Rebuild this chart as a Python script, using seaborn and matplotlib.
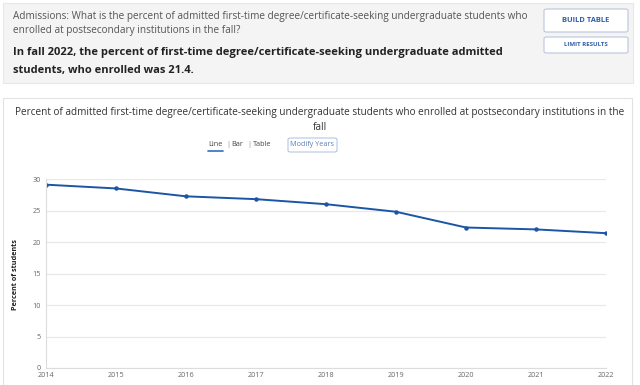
import pandas as pd
import seaborn as sns
import matplotlib.pyplot as plt
from matplotlib.patches import FancyBboxPatch, Rectangle

# data
years = [2014, 2015, 2016, 2017, 2018, 2019, 2020, 2021, 2022]
percent = [29.1, 28.5, 27.25, 26.8, 26.0, 24.8, 22.3, 22.0, 21.4]
y_ticks = [0, 5, 10, 15, 20, 25, 30]

df = pd.DataFrame({"year": years, "percent": percent})

sns.set_theme(style="white")
plt.rcParams["font.family"] = ["Open Sans", "DejaVu Sans"]

W, H = 640, 385
fig = plt.figure(figsize=(6.4, 3.85), dpi=100)
fig.patch.set_facecolor("white")


def px(x, y):
    # pixel coords (top-left origin) -> figure fraction
    return x / W, 1 - y / H


# header panel
fig.patches.append(Rectangle(px(3, 83), 630 / W, 80 / H, transform=fig.transFigure,
                             facecolor="#f4f4f4", edgecolor="#e8e8e8", lw=0.8, zorder=-2))
fig.text(*px(13, 16), "Admissions: What is the percent of admitted first-time degree/certificate-seeking undergraduate students who",
         fontsize=7.2, color="#555555", va="center")
fig.text(*px(13, 31), "enrolled at postsecondary institutions in the fall?",
         fontsize=7.2, color="#555555", va="center")
fig.text(*px(13, 53), "In fall 2022, the percent of first-time degree/certificate-seeking undergraduate admitted",
         fontsize=8.0, color="#222222", weight="bold", va="center")
fig.text(*px(13, 70), "students, who enrolled was 21.4.",
         fontsize=8.0, color="#222222", weight="bold", va="center")

# buttons
for (y0, y1, label, fs) in [(9, 32, "BUILD TABLE", 5.4), (37, 53, "LIMIT RESULTS", 4.4)]:
    fig.patches.append(FancyBboxPatch(px(544, y1), 84 / W, (y1 - y0) / H,
                                      boxstyle="round,pad=0,rounding_size=0.004",
                                      transform=fig.transFigure, facecolor="white",
                                      edgecolor="#b9c7dc", lw=0.8, zorder=1))
    fig.text(*px(586, (y0 + y1) / 2), label, fontsize=fs, color="#2f5fa7",
             weight="bold", ha="center", va="center")

# chart card
fig.patches.append(Rectangle(px(3, 386), 629 / W, 288 / H, transform=fig.transFigure,
                             facecolor="white", edgecolor="#e2e2e2", lw=0.8, zorder=-2))
fig.text(*px(320, 113), "Percent of admitted first-time degree/certificate-seeking undergraduate students who enrolled at postsecondary institutions in the",
         fontsize=7.2, color="#333333", ha="center", va="center")
fig.text(*px(320, 127), "fall", fontsize=7.2, color="#333333", ha="center", va="center")

fig.text(*px(215.5, 144), "Line", fontsize=5.2, color="#444444", ha="center", va="center")
fig.lines.append(plt.Line2D([208 / W, 223 / W], [1 - 151 / H, 1 - 151 / H],
                            transform=fig.transFigure, color="#2f6fc0", lw=1.2))
fig.text(*px(228, 144), "|", fontsize=5.2, color="#888888", ha="center", va="center")
fig.text(*px(237.5, 144), "Bar", fontsize=5.2, color="#444444", ha="center", va="center")
fig.text(*px(249, 144), "|", fontsize=5.2, color="#888888", ha="center", va="center")
fig.text(*px(262.5, 144), "Table", fontsize=5.2, color="#444444", ha="center", va="center")
fig.patches.append(FancyBboxPatch(px(288, 152), 49 / W, 14 / H,
                                  boxstyle="round,pad=0,rounding_size=0.004",
                                  transform=fig.transFigure, facecolor="white",
                                  edgecolor="#a9bedb", lw=0.7, zorder=1))
fig.text(*px(312.5, 144.5), "Modify Years", fontsize=5.2, color="#5a7fb8", ha="center", va="center")

# plot area
ax = fig.add_axes([46 / W, 1 - 368 / H, 560 / W, 189 / H])
ax.set_zorder(2)
ax.set_facecolor("none")
sns.lineplot(data=df, x="year", y="percent", ax=ax, color="#1b55a6", lw=1.4,
             marker="o", markersize=3.2, markeredgewidth=0)
ax.set_xlim(2014, 2022)
ax.set_ylim(0, 30)
ax.set_xticks(years)
ax.set_yticks(y_ticks)
ax.set_xticklabels([str(y) for y in years], fontsize=5.2, color="#666666")
ax.set_yticklabels([str(t) for t in y_ticks], fontsize=5.2, color="#666666")
ax.tick_params(axis="y", length=0, pad=4)
ax.tick_params(axis="x", length=0, pad=3)
ax.grid(axis="y", color="#e8e8e8", lw=0.9)
ax.set_axisbelow(True)
for s in ["top", "right"]:
    ax.spines[s].set_visible(False)
ax.spines["left"].set_color("#dcdcdc")
ax.spines["bottom"].set_color("#dcdcdc")
ax.spines["left"].set_linewidth(0.8)
ax.spines["bottom"].set_linewidth(0.8)
ax.set_xlabel("")
ax.set_ylabel("")
fig.text(*px(16, 275), "Percent of students", fontsize=5.2, color="#222222",
         weight="bold", rotation=90, ha="center", va="center")

fig.savefig("out.png", dpi=100, facecolor="white")
